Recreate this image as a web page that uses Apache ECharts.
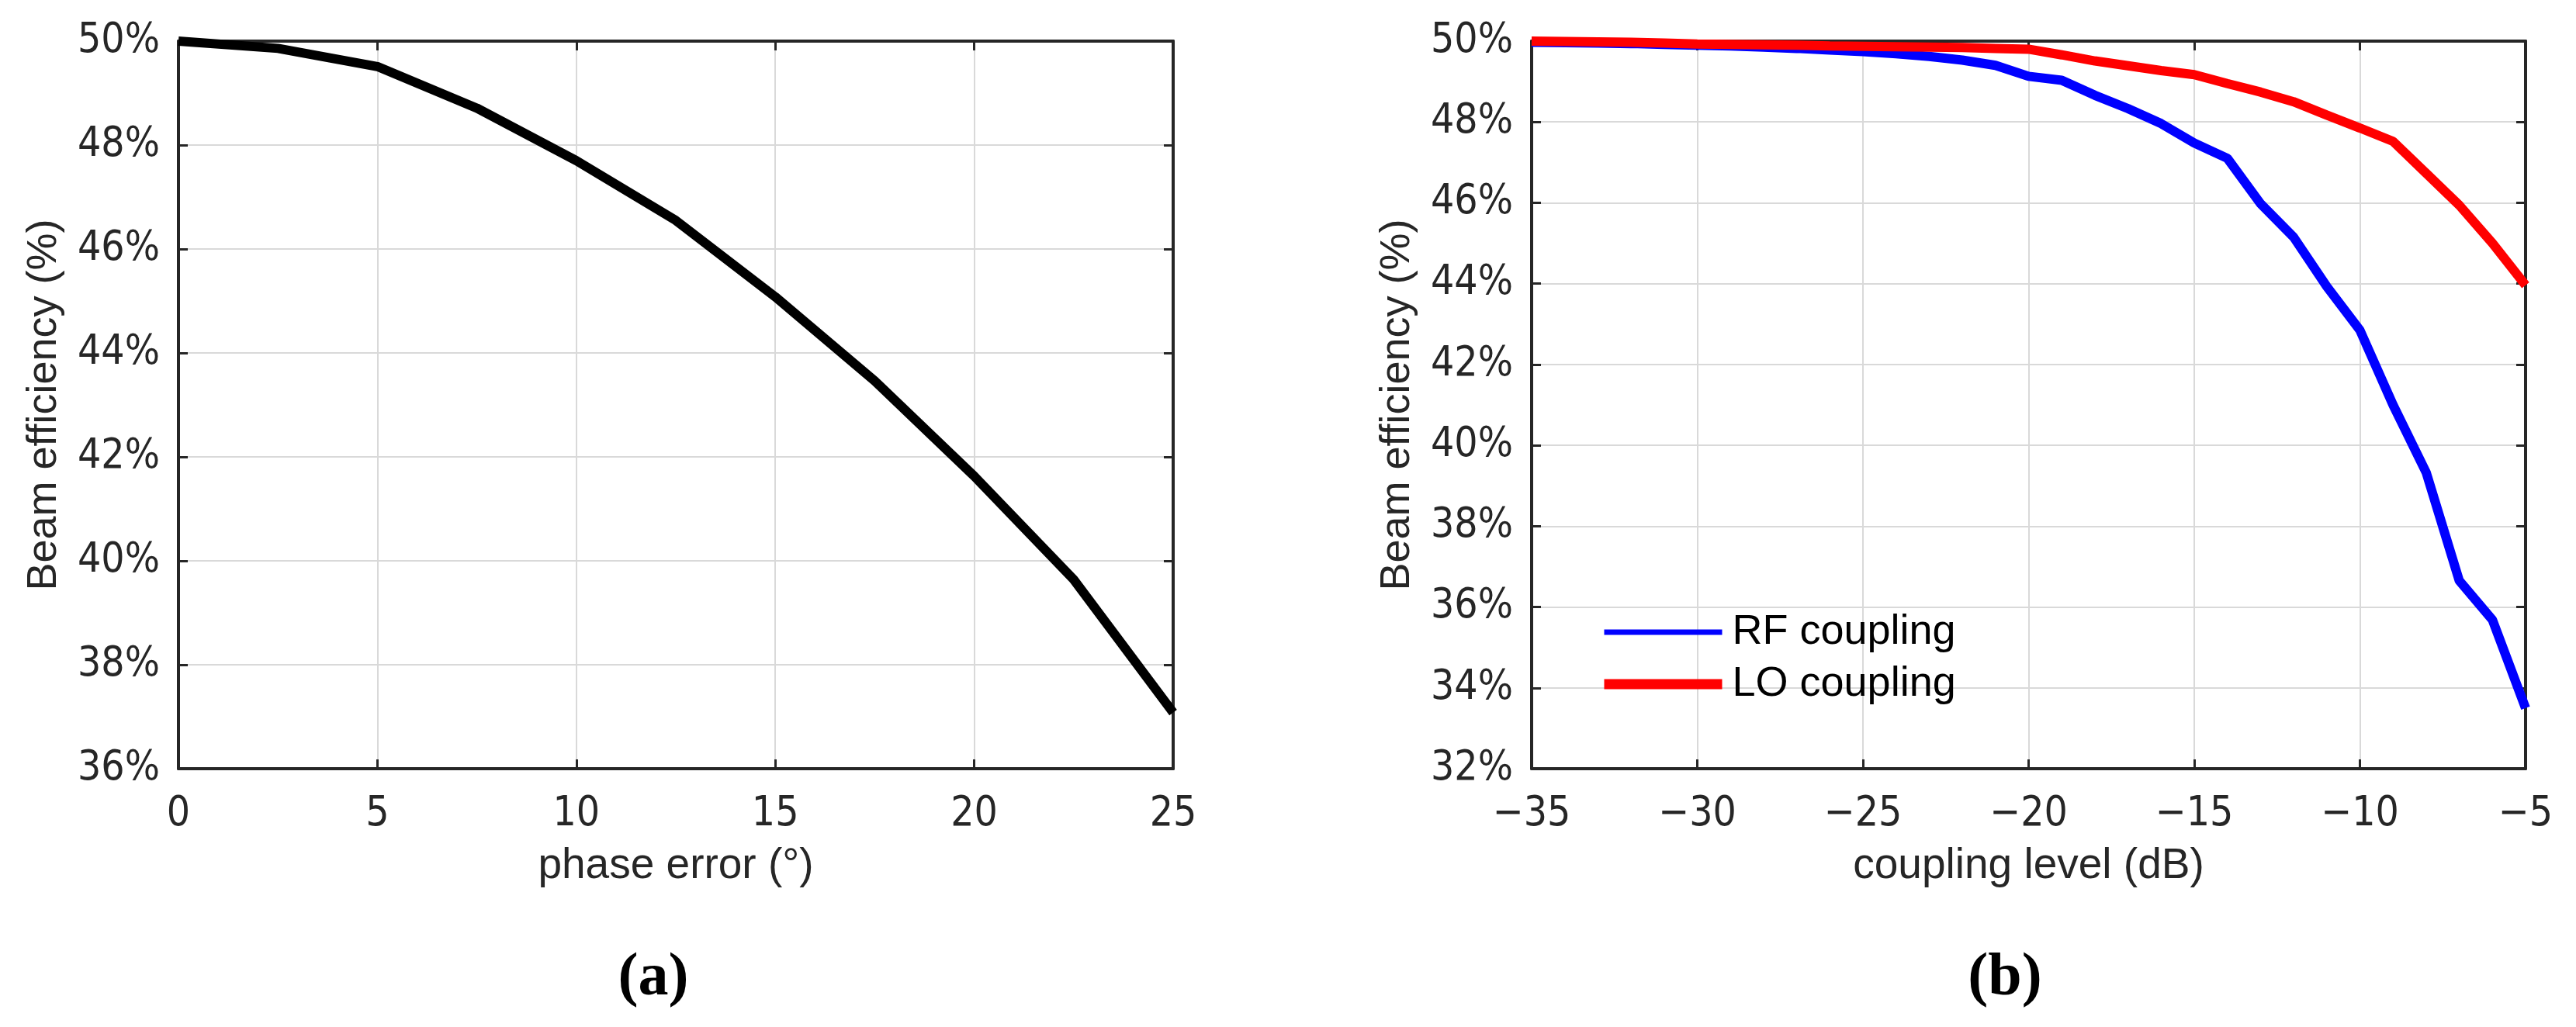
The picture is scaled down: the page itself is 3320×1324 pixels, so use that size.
<!DOCTYPE html>
<html>
<head>
<meta charset="utf-8">
<title>Beam efficiency</title>
<script src="https://cdn.jsdelivr.net/npm/echarts@6/dist/echarts.min.js"></script>
<style>
  html, body { margin: 0; padding: 0; background: #fff; }
  #main { width: 3320px; height: 1324px; }
</style>
</head>
<body>
<div id="main"></div>
<script>
// (a) beam efficiency vs phase error
const phaseError = [0, 2.5, 5, 7.5, 10, 12.5, 15, 17.5, 20, 22.5, 25];
const effVsPhase = [50.0, 49.86, 49.51, 48.71, 47.70, 46.55, 45.08, 43.46, 41.63, 39.64, 37.08];

// (b) beam efficiency vs coupling level
const couplingLevel = [-35, -34, -33, -32, -31, -30, -29, -28, -27, -26, -25, -24, -23, -22, -21, -20,
  -19, -18, -17, -16, -15, -14, -13, -12, -11, -10, -9, -8, -7, -6, -5];
const rfCoupling = [49.97, 49.96, 49.95, 49.94, 49.92, 49.90, 49.88, 49.85, 49.82, 49.78, 49.74, 49.69, 49.62, 49.53, 49.40, 49.13,
  49.03, 48.66, 48.33, 47.96, 47.48, 47.10, 45.98, 45.15, 43.93, 42.85, 41.00, 39.33, 36.65, 35.68, 33.50];
const loCoupling = [50.00, 49.99, 49.98, 49.97, 49.95, 49.93, 49.92, 49.91, 49.90, 49.88, 49.87, 49.86, 49.85, 49.84, 49.82, 49.80,
  49.66, 49.51, 49.39, 49.27, 49.17, 48.95, 48.74, 48.50, 48.17, 47.85, 47.52, 46.73, 45.94, 45.00, 43.96];

const seriesNames = ['RF coupling', 'LO coupling'];
const panelLabels = ['(a)', '(b)'];

const FONT = '"Liberation Sans", Arial, sans-serif';
const TICKFONT = '"Liberation Sans Narrow", "DejaVu Sans Condensed", "Liberation Sans", sans-serif';
const INK = '#262626';

function pairs(xs, ys) {
  return xs.map((x, i) => [x, ys[i]]);
}
function minus(v) {
  return String(v).replace('-', '\u2212');
}

function mainX(grid, min, max, name) {
  return {
    type: 'value', gridIndex: grid, min: min, max: max, interval: 5,
    name: name, nameLocation: 'middle', nameGap: 98,
    nameTextStyle: { fontFamily: FONT, fontSize: 55, color: INK },
    axisLine: { show: true, onZero: false, lineStyle: { color: INK, width: 4 } },
    axisTick: { show: true, inside: true, length: 12, lineStyle: { color: INK, width: 3 } },
    axisLabel: { margin: 33, fontFamily: TICKFONT, fontSize: 53, color: INK, formatter: minus },
    splitLine: { show: true, lineStyle: { color: '#d9d9d9', width: 2 } }
  };
}
function boxX(grid, min, max) {
  return {
    type: 'value', gridIndex: grid, min: min, max: max, interval: 5, position: 'top',
    axisLine: { show: true, onZero: false, lineStyle: { color: INK, width: 4 } },
    axisTick: { show: true, inside: true, length: 12, lineStyle: { color: INK, width: 3 } },
    axisLabel: { show: false }, splitLine: { show: false }
  };
}
function mainY(grid, min, max) {
  return {
    type: 'value', gridIndex: grid, min: min, max: max, interval: 2,
    name: 'Beam efficiency (%)', nameLocation: 'middle', nameGap: 146, nameRotate: 90,
    nameTextStyle: { fontFamily: FONT, fontSize: 54, color: INK },
    axisLine: { show: true, onZero: false, lineStyle: { color: INK, width: 4 } },
    axisTick: { show: true, inside: true, length: 12, lineStyle: { color: INK, width: 3 } },
    axisLabel: { margin: 24, fontFamily: TICKFONT, fontSize: 53, color: INK, formatter: v => v + '%' },
    splitLine: { show: true, lineStyle: { color: '#d9d9d9', width: 2 } }
  };
}
function boxY(grid, min, max) {
  return {
    type: 'value', gridIndex: grid, min: min, max: max, interval: 2, position: 'right',
    axisLine: { show: true, onZero: false, lineStyle: { color: INK, width: 4 } },
    axisTick: { show: true, inside: true, length: 12, lineStyle: { color: INK, width: 3 } },
    axisLabel: { show: false }, splitLine: { show: false }
  };
}

var chart = echarts.init(document.getElementById('main'), null, { renderer: 'canvas' });
chart.setOption({
  backgroundColor: '#ffffff',
  animation: false,
  grid: [
    { left: 230, right: 1808, top: 53, bottom: 333 },
    { left: 1974, right: 65, top: 53, bottom: 333 }
  ],
  xAxis: [
    mainX(0, 0, 25, 'phase error (\u00b0)'),
    mainX(1, -35, -5, 'coupling level (dB)'),
    boxX(0, 0, 25),
    boxX(1, -35, -5)
  ],
  yAxis: [
    mainY(0, 36, 50),
    mainY(1, 32, 50),
    boxY(0, 36, 50),
    boxY(1, 32, 50)
  ],
  legend: {
    left: 2056, top: 780, orient: 'vertical',
    itemWidth: 152, itemHeight: 14, itemGap: 7,
    textStyle: { fontFamily: FONT, fontSize: 54, color: '#000', lineHeight: 60, padding: [0, 0, 0, 8] },
    data: [
      { name: seriesNames[0], lineStyle: { color: '#0000ff', width: 7 }, itemStyle: { color: 'rgba(0,0,0,0)', borderWidth: 0 } },
      { name: seriesNames[1], lineStyle: { color: '#ff0000', width: 13 }, itemStyle: { color: 'rgba(0,0,0,0)', borderWidth: 0 } }
    ]
  },
  graphic: [
    { type: 'text', x: 842, y: 1262, style: { text: panelLabels[0], font: 'bold 78px "Liberation Serif", serif', fill: '#000', textAlign: 'center', textVerticalAlign: 'middle' } },
    { type: 'text', x: 2584, y: 1262, style: { text: panelLabels[1], font: 'bold 78px "Liberation Serif", serif', fill: '#000', textAlign: 'center', textVerticalAlign: 'middle' } }
  ],
  series: [
    {
      type: 'line', xAxisIndex: 0, yAxisIndex: 0, data: pairs(phaseError, effVsPhase),
      symbol: 'none', lineStyle: { color: '#000', width: 12 }, clip: false
    },
    {
      name: seriesNames[0], type: 'line', xAxisIndex: 1, yAxisIndex: 1, data: pairs(couplingLevel, rfCoupling),
      symbol: 'none', itemStyle: { color: '#0000ff' }, lineStyle: { color: '#0000ff', width: 12 }, clip: false
    },
    {
      name: seriesNames[1], type: 'line', xAxisIndex: 1, yAxisIndex: 1, data: pairs(couplingLevel, loCoupling),
      symbol: 'none', itemStyle: { color: '#ff0000' }, lineStyle: { color: '#ff0000', width: 12 }, clip: false
    }
  ]
});
</script>
</body>
</html>
